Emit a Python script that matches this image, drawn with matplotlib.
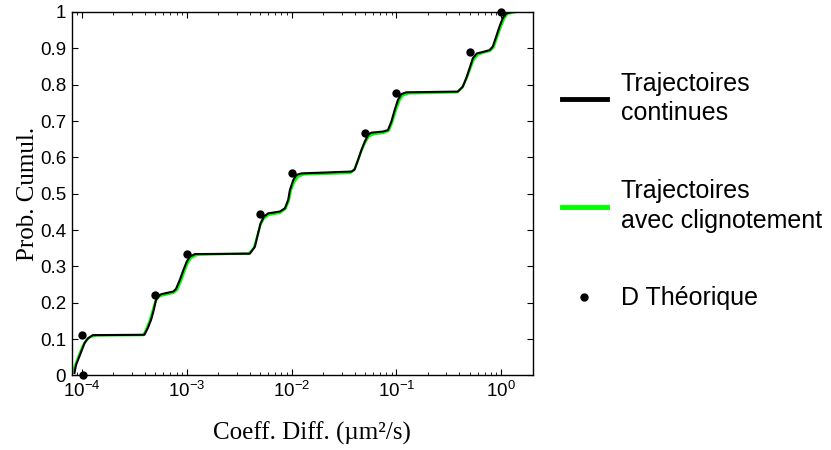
import matplotlib
matplotlib.use("Agg")
import matplotlib.pyplot as plt
from matplotlib.lines import Line2D

plt.rcParams["font.family"] = "Liberation Sans"
plt.rcParams["mathtext.fontset"] = "custom"
plt.rcParams["mathtext.rm"] = "Liberation Sans"
plt.rcParams["mathtext.it"] = "Liberation Sans:italic"
plt.rcParams["mathtext.bf"] = "Liberation Sans:bold"

# Cumulative distribution, continuous trajectories
black_D = [8.5e-5, 8.8e-5, 9.85e-5, 1.06e-4, 1.14e-4, 1.27e-4, 3.95e-4, 4.25e-4,
           4.57e-4, 4.81e-4, 5.1e-4, 5.48e-4, 5.78e-4, 7.45e-4, 7.9e-4, 8.6e-4,
           9.3e-4, 1.0e-3, 1.07e-3, 1.2e-3, 4.0e-3, 4.47e-3, 4.8e-3, 5.07e-3,
           5.45e-3, 5.98e-3, 7.74e-3, 8.64e-3, 9.29e-3, 9.64e-3, 1.04e-2, 1.12e-2,
           1.25e-2, 3.73e-2, 4.0e-2, 4.31e-2, 4.64e-2, 4.99e-2, 5.37e-2, 5.78e-2,
           7.45e-2, 8.31e-2, 8.95e-2, 9.63e-2, 0.1035, 0.1116, 0.1245, 0.386,
           0.431, 0.47, 0.499, 0.537, 0.586, 0.668, 0.774, 0.832, 0.895, 0.964,
           1.035, 1.116, 1.23]
black_P = [0.007, 0.029, 0.065, 0.089, 0.102, 0.111, 0.112, 0.130,
           0.153, 0.176, 0.208, 0.221, 0.224, 0.231, 0.238, 0.263,
           0.290, 0.313, 0.327, 0.334, 0.335, 0.354, 0.391, 0.419,
           0.437, 0.446, 0.451, 0.460, 0.483, 0.510, 0.538, 0.552,
           0.556, 0.561, 0.567, 0.593, 0.620, 0.643, 0.662, 0.668,
           0.671, 0.675, 0.698, 0.730, 0.758, 0.774, 0.779, 0.781,
           0.795, 0.822, 0.845, 0.873, 0.886, 0.890, 0.895, 0.905, 0.932, 0.960,
           0.983, 0.996, 0.999]

# Cumulative distribution, trajectories with blinking
green_D = [8.05e-5, 8.45e-5, 9.02e-5, 9.64e-5, 1.03e-4, 1.1e-4, 1.2e-4, 1.37e-4,
           3.84e-4, 4.09e-4, 4.42e-4, 4.72e-4, 5.04e-4, 5.39e-4, 5.82e-4, 7.41e-4,
           8.09e-4, 8.83e-4, 9.53e-4, 1.02e-3, 1.1e-3, 1.26e-3, 3.92e-3, 4.37e-3,
           4.72e-3, 5.04e-3, 5.45e-3, 6.08e-3, 7.74e-3, 8.73e-3, 9.42e-3, 9.84e-3,
           1.06e-2, 1.16e-2, 1.31e-2, 3.63e-2, 3.96e-2, 4.28e-2, 4.62e-2, 4.99e-2,
           5.45e-2, 6.08e-2, 7.49e-2, 8.45e-2, 9.12e-2, 9.85e-2, 0.1064, 0.1148,
           0.131, 0.379, 0.424, 0.468, 0.505, 0.545, 0.601, 0.693, 0.782, 0.845,
           0.912, 0.985, 1.064, 1.148, 1.34]
green_P = [0.010, 0.021, 0.043, 0.065, 0.084, 0.096, 0.106, 0.110,
           0.111, 0.125, 0.150, 0.177, 0.205, 0.216, 0.220, 0.227,
           0.235, 0.260, 0.287, 0.309, 0.323, 0.332, 0.336, 0.351,
           0.384, 0.414, 0.432, 0.442, 0.447, 0.458, 0.480, 0.508,
           0.532, 0.547, 0.553, 0.557, 0.565, 0.590, 0.617, 0.639,
           0.657, 0.664, 0.667, 0.673, 0.696, 0.728, 0.755, 0.770,
           0.776, 0.779, 0.791, 0.818, 0.843, 0.868, 0.883, 0.889, 0.893, 0.902,
           0.930, 0.957, 0.981, 0.995, 0.999]

# Theoretical diffusion coefficients
theo_D = [1.03e-4, 1e-4, 5e-4, 1e-3, 5e-3, 1e-2, 5e-2, 1e-1, 5e-1, 1.0]
theo_P = [0.0, 0.111, 0.222, 0.333, 0.444, 0.556, 0.667, 0.778, 0.889, 1.0]

xtick_vals = [1e-4, 1e-3, 1e-2, 1e-1, 1e0]
xtick_labels = ["$10^{-4}$", "$10^{-3}$", "$10^{-2}$", "$10^{-1}$", "$10^{0}$"]
ytick_vals = [0, 0.1, 0.2, 0.3, 0.4, 0.5, 0.6, 0.7, 0.8, 0.9, 1]
ytick_labels = ["0", "0.1", "0.2", "0.3", "0.4", "0.5", "0.6", "0.7", "0.8", "0.9", "1"]

fig = plt.figure(figsize=(8.31, 4.5), dpi=100)
ax = fig.add_axes([0.0863, 0.1656, 0.5548, 0.8078])

ax.plot(green_D, green_P, color="#00ff00", linewidth=1.7)
ax.plot(black_D, black_P, color="black", linewidth=1.5)
ax.plot(theo_D, theo_P, "o", color="black", markersize=5, clip_on=False, zorder=5)

ax.set_xscale("log")
ax.set_xlim(8e-5, 2)
ax.set_ylim(0, 1)
ax.set_xticks(xtick_vals)
ax.set_xticklabels(xtick_labels, fontsize=13.5)
ax.set_yticks(ytick_vals)
ax.set_yticklabels(ytick_labels, fontsize=13.5)
ax.tick_params(which="both", direction="in", top=True, right=True)
ax.tick_params(which="major", length=4.5, width=0.8, pad=4)
ax.tick_params(which="minor", length=2.5, width=0.6)
for s in ax.spines.values():
    s.set_linewidth(1.0)

ax.set_ylabel("Prob. Cumul.", family="Liberation Serif", fontsize=18, labelpad=1)
ax.set_xlabel("Coeff. Diff. (\u00b5m\u00b2/s)", family="Liberation Serif", fontsize=18, labelpad=15)
ax.xaxis.label.set_x(0.52)

# Legend outside the axes
handles = [Line2D([], [], color="black", linewidth=3.5),
           Line2D([], [], color="#00ff00", linewidth=3.5),
           Line2D([], [], color="black", marker="o", linestyle="none", markersize=5)]
labels = ["Trajectoires\ncontinues", "Trajectoires\navec clignotement", "D Th\u00e9orique"]
leg = ax.legend(handles, labels, loc="center left", bbox_to_anchor=(0.676, 0.5756),
                bbox_transform=fig.transFigure, frameon=False, fontsize=18,
                handlelength=1.8, handletextpad=0.55, labelspacing=2.15,
                borderpad=0, borderaxespad=0, numpoints=1)
for t in leg.get_texts():
    t.set_linespacing(1.3)

fig.savefig("out.png", dpi=100)
